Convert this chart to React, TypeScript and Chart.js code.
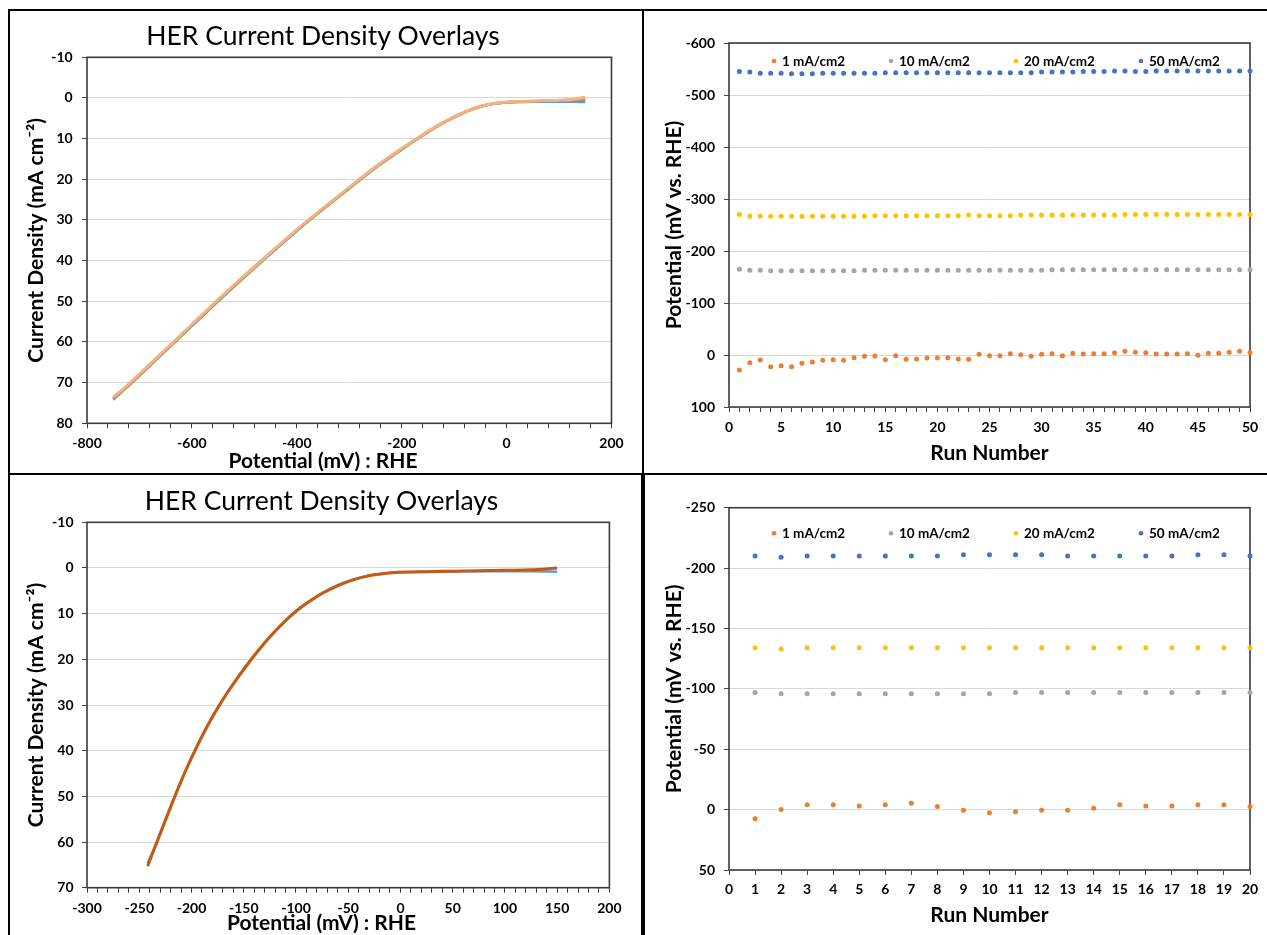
import React, { useEffect, useRef } from 'react';
import { Chart, registerables } from 'chart.js';

Chart.register(...registerables);

const FONT = 'Lato, "Open Sans", "DejaVu Sans", sans-serif';

// ---------- Top-left: HER overlays (wide range) ----------
const tlPotential = [-750, -725, -700, -650, -600, -550, -500, -450, -400, -350, -300, -250, -200, -175, -150, -125, -100, -75, -50, -25, 0, 25, 50, 75, 100, 125, 150];
const tlPeach = [73.6, 70.9, 67.9, 61.8, 55.7, 49.6, 43.7, 38.0, 32.4, 27.1, 22.0, 16.9, 12.4, 10.3, 8.2, 6.3, 4.6, 3.15, 2.05, 1.35, 1.0, 0.85, 0.75, 0.65, 0.55, 0.35, -0.2];
const tlOrange = [73.8, 71.0, 68.0, 61.9, 55.8, 49.7, 43.8, 38.1, 32.5, 27.2, 22.1, 17.0, 12.5, 10.4, 8.3, 6.4, 4.7, 3.2, 2.1, 1.4, 1.05, 0.9, 0.8, 0.7, 0.6, 0.45, 0.2];
const tlBlue = [74.0, 71.1, 68.1, 62.0, 55.9, 49.8, 43.9, 38.2, 32.6, 27.3, 22.2, 17.1, 12.6, 10.4, 8.3, 6.4, 4.7, 3.2, 2.1, 1.4, 1.05, 1.0, 0.95, 0.95, 0.95, 0.95, 1.0];
const tlGreen = [74.2, 71.3, 68.3, 62.2, 56.1, 50.0, 44.1, 38.3, 32.7, 27.4, 22.3, 17.2, 12.7, 10.5, 8.4, 6.5, 4.8, 3.3, 2.15, 1.45, 1.1, 0.95, 0.85, 0.75, 0.65, 0.5, 0.4];

// ---------- Bottom-left: HER overlays (narrow range) ----------
const blPotential = [-242, -235, -225, -215, -205, -195, -185, -175, -165, -155, -145, -135, -125, -115, -105, -95, -85, -75, -65, -55, -45, -35, -25, -15, -5, 0, 25, 50, 75, 100, 125, 150];
const blOrange = [65.3, 61.2, 55.3, 49.5, 44.1, 39.2, 34.7, 30.7, 27.1, 23.8, 20.7, 17.8, 15.1, 12.7, 10.5, 8.6, 7.0, 5.6, 4.4, 3.4, 2.6, 1.95, 1.5, 1.2, 1.0, 0.95, 0.8, 0.7, 0.6, 0.5, 0.4, 0.0];
const blBlue = [64.7, 60.9, 55.1, 49.4, 44.0, 39.1, 34.6, 30.6, 27.0, 23.7, 20.6, 17.7, 15.0, 12.6, 10.4, 8.5, 6.9, 5.5, 4.3, 3.3, 2.5, 1.9, 1.45, 1.15, 0.97, 0.9, 0.8, 0.75, 0.7, 0.7, 0.7, 0.8];

// ---------- Top-right: 50 runs ----------
const trRuns = [1, 2, 3, 4, 5, 6, 7, 8, 9, 10, 11, 12, 13, 14, 15, 16, 17, 18, 19, 20, 21, 22, 23, 24, 25, 26, 27, 28, 29, 30, 31, 32, 33, 34, 35, 36, 37, 38, 39, 40, 41, 42, 43, 44, 45, 46, 47, 48, 49, 50];
const tr1 = [28.8, 14.7, 9.6, 22.4, 20.5, 22.4, 16, 13.5, 10.2, 9, 10.2, 5.1, 2.6, 1.9, 9, 1.3, 8.3, 7.7, 5.8, 5.8, 5.1, 7.7, 8.3, -1.3, 1.3, 1.3, -2.6, -0.6, 2.6, -1.3, -2.6, 1.3, -3.2, -1.9, -2.6, -2.6, -4.5, -7, -5.1, -4.5, -1.9, -1.9, -1.9, -2.6, 0.6, -3.2, -3.2, -5.1, -7, -4.5];
const tr10 = [-165, -163, -163, -162, -162, -162, -162, -162, -162, -162, -162, -162, -163, -163, -163, -163, -163, -163, -163, -163, -163, -163, -163, -163, -163, -163, -163, -163, -163, -163, -164, -164, -164, -164, -164, -164, -164, -164, -164, -164, -164, -164, -164, -164, -164, -164, -164, -164, -164, -164];
const tr20 = [-270, -267, -267, -267, -267, -267, -267, -267, -267, -267, -267, -267, -267, -268, -268, -268, -268, -268, -268, -268, -268, -268, -269, -268, -268, -268, -268, -269, -269, -269, -269, -269, -269, -269, -269, -269, -269, -270, -270, -270, -270, -270, -270, -270, -270, -270, -270, -270, -270, -270];
const tr50 = [-545, -544, -542, -542, -542, -541, -541, -541, -542, -542, -542, -542, -542, -542, -543, -543, -543, -543, -543, -543, -543, -543, -543, -543, -543, -543, -543, -543, -543, -544, -544, -544, -544, -545, -545, -545, -546, -546, -545, -545, -546, -546, -546, -546, -546, -546, -546, -546, -546, -546];

// ---------- Bottom-right: 20 runs ----------
const brRuns = [1, 2, 3, 4, 5, 6, 7, 8, 9, 10, 11, 12, 13, 14, 15, 16, 17, 18, 19, 20];
const br1 = [7.5, 0, -4.1, -4.1, -3, -4.1, -5.2, -2.5, 0.6, 2.5, 1.7, 0.6, 0.6, -1.1, -4.1, -3, -3, -4.1, -4.1, -2.5];
const br10 = [-97, -96, -96, -96, -96, -96, -96, -96, -96, -96, -97, -97, -97, -97, -97, -97, -97, -97, -97, -97];
const br20 = [-134, -133, -134, -134, -134, -134, -134, -134, -134, -134, -134, -134, -134, -134, -134, -134, -134, -134, -134, -134];
const br50 = [-210, -209, -210, -210, -210, -210, -210, -210, -211, -211, -211, -211, -210, -210, -210, -210, -210, -211, -211, -210];

const legendLabels = ['1 mA/cm2', '10 mA/cm2', '20 mA/cm2', '50 mA/cm2'];
const scatterColors = ['#ED7D31', '#A5A5A5', '#FFC000', '#4472C4'];

const herTitle = 'HER Current Density Overlays';
const cdTitle = 'Current Density (mA cm\u207B\u00B2)';
const potTitle = 'Potential (mV) : RHE';
const runTitle = 'Run Number';
const potRheTitle = 'Potential (mV vs. RHE)';

const TICK_SIZE = 14;
const AXIS_TITLE_SIZE = 21;

Chart.defaults.font.family = FONT;
Chart.defaults.color = '#000';

const framePlugin = {
  id: 'frame',
  beforeDatasetsDraw(chart: any) {
    const { ctx, chartArea: a } = chart;
    ctx.save();
    ctx.strokeStyle = '#3a3a3a';
    ctx.lineWidth = 1.6;
    ctx.strokeRect(a.left, a.top, a.right - a.left, a.bottom - a.top);
    ctx.restore();
  },
};

function makeLegend(top: number, offsets: number[]) {
  return {
    id: 'insideLegend',
    afterDatasetsDraw(chart: any) {
      const { ctx, chartArea: a } = chart;
      ctx.save();
      ctx.font = 'bold 13.5px ' + FONT;
      ctx.textBaseline = 'middle';
      ctx.textAlign = 'left';
      chart.data.datasets.forEach((ds: any, i: number) => {
        const x = a.left + offsets[i];
        const y = a.top + top;
        ctx.fillStyle = ds.backgroundColor;
        ctx.beginPath();
        ctx.arc(x, y, 2.3, 0, Math.PI * 2);
        ctx.fill();
        ctx.fillStyle = '#000';
        ctx.fillText(ds.label, x + 8, y + 0.5);
      });
      ctx.restore();
    },
  };
}

function xAxis(o: { min: number; max: number; step: number; every: number; title?: string; height: number; titlePad?: number; tickPad: number }) {
  return {
    type: 'linear',
    min: o.min,
    max: o.max,
    afterFit: (s: any) => {
      s.height = o.height;
    },
    ticks: {
      stepSize: o.step,
      maxTicksLimit: 1000,
      autoSkip: false,
      maxRotation: 0,
      minRotation: 0,
      padding: o.tickPad,
      color: '#000',
      font: { size: TICK_SIZE, weight: 'bold' },
      callback: (v: number) => (Math.abs(v % o.every) < 1e-9 ? String(v) : ''),
    },
    grid: { drawOnChartArea: false, drawTicks: true, tickLength: 5, tickColor: '#404040', lineWidth: 1 },
    border: { display: false },
    title: o.title
      ? { display: true, text: o.title, color: '#000', font: { size: AXIS_TITLE_SIZE, weight: 'bold' }, padding: { top: 0, bottom: o.titlePad || 0 } }
      : { display: false },
  };
}

function yAxis(o: { min: number; max: number; step: number; title: string; width: number; titlePad: number; tickPad: number }) {
  return {
    type: 'linear',
    reverse: true,
    min: o.min,
    max: o.max,
    afterFit: (s: any) => {
      s.width = o.width;
    },
    ticks: { stepSize: o.step, padding: o.tickPad, color: '#000', font: { size: TICK_SIZE, weight: 'bold' } },
    grid: { color: '#D9D9D9', lineWidth: 1, drawTicks: true, tickLength: 5, tickColor: '#404040' },
    border: { display: false },
    title: { display: true, text: o.title, color: '#000', font: { size: AXIS_TITLE_SIZE, weight: 'bold' }, padding: { top: o.titlePad, bottom: 0 } },
  };
}

function lineSet(label: string, xs: number[], ys: number[], color: string, width: number) {
  return {
    label,
    data: xs.map((x, i) => ({ x, y: ys[i] })),
    showLine: true,
    borderColor: color,
    backgroundColor: color,
    borderWidth: width,
    pointRadius: 0,
    cubicInterpolationMode: 'monotone',
    clip: false,
  };
}

function dotSet(label: string, xs: number[], ys: number[], color: string) {
  return {
    label,
    data: xs.map((x, i) => ({ x, y: ys[i] })),
    showLine: false,
    backgroundColor: color,
    borderColor: color,
    borderWidth: 0,
    pointRadius: 2.5,
    clip: false,
  };
}

function baseOptions(extra: any) {
  return {
    responsive: false,
    animation: false,
    events: [],
    layout: extra.layout,
    plugins: {
      legend: { display: false },
      tooltip: { enabled: false },
      title: extra.title || { display: false },
      subtitle: extra.subtitle || { display: false },
    },
    scales: extra.scales,
  };
}

function chartTitle(padTop: number, padBottom: number) {
  return { display: true, text: herTitle, color: '#000', font: { size: 26.5, weight: 'normal' }, padding: { top: padTop, bottom: padBottom } };
}

function bottomAxisTitle(text: string, padTop: number, padBottom: number) {
  return { display: true, position: 'bottom', text, color: '#000', font: { size: AXIS_TITLE_SIZE, weight: 'bold' }, padding: { top: padTop, bottom: padBottom } };
}

function makeConfigs(): any[] {
  const tl = {
    type: 'scatter',
    data: {
      datasets: [
        lineSet('Run A', tlPotential, tlPeach, '#F4B183', 3),
        lineSet('Run B', tlPotential, tlOrange, '#ED7D31', 2.5),
        lineSet('Run C', tlPotential, tlBlue, '#5B9BD5', 2.5),
        lineSet('Run D', tlPotential, tlGreen, '#70AD47', 2.5),
      ],
    },
    options: baseOptions({
      layout: { padding: { left: 24.5, right: 30.5, top: 0, bottom: 0 } },
      title: chartTitle(9.1, 5.4),
      subtitle: bottomAxisTitle(potTitle, -3.9, -0.6),
      scales: {
        x: xAxis({ min: -800, max: 200, step: 40, every: 200, height: 29, tickPad: 6.3 }),
        y: yAxis({ min: -10, max: 80, step: 10, title: cdTitle, width: 52.5, titlePad: -10.4, tickPad: 9.3 }),
      },
    }),
    plugins: [framePlugin],
  };
  const tr = {
    type: 'scatter',
    data: {
      datasets: [
        dotSet(legendLabels[0], trRuns, tr1, scatterColors[0]),
        dotSet(legendLabels[1], trRuns, tr10, scatterColors[1]),
        dotSet(legendLabels[2], trRuns, tr20, scatterColors[2]),
        dotSet(legendLabels[3], trRuns, tr50, scatterColors[3]),
      ],
    },
    options: baseOptions({
      layout: { padding: { left: 0, right: 17, top: 32, bottom: 0 } },
      scales: {
        x: xAxis({ min: 0, max: 50, step: 1, every: 5, title: runTitle, height: 66, titlePad: 7.4, tickPad: 6.6 }),
        y: yAxis({ min: -600, max: 100, step: 100, title: potRheTitle, width: 85, titlePad: 17.4, tickPad: 9 }),
      },
    }),
    plugins: [framePlugin, makeLegend(18, [45, 162, 287, 412])],
  };
  const bl = {
    type: 'scatter',
    data: {
      datasets: [
        lineSet('Run A', blPotential, blOrange, '#C55A11', 3),
        lineSet('Run B', blPotential, blBlue, '#5B9BD5', 2.5),
      ],
    },
    options: baseOptions({
      layout: { padding: { left: 23.6, right: 31.6, top: 0, bottom: 0 } },
      title: chartTitle(10.8, 4.7),
      subtitle: bottomAxisTitle(potTitle, -6, -0.9),
      scales: {
        x: xAxis({ min: -300, max: 200, step: 10, every: 50, height: 29, tickPad: 6.9 }),
        y: yAxis({ min: -10, max: 70, step: 10, title: cdTitle, width: 53.4, titlePad: -9.5, tickPad: 8.5 }),
      },
    }),
    plugins: [framePlugin],
  };
  const br = {
    type: 'scatter',
    data: {
      datasets: [
        dotSet(legendLabels[0], brRuns, br1, scatterColors[0]),
        dotSet(legendLabels[1], brRuns, br10, scatterColors[1]),
        dotSet(legendLabels[2], brRuns, br20, scatterColors[2]),
        dotSet(legendLabels[3], brRuns, br50, scatterColors[3]),
      ],
    },
    options: baseOptions({
      layout: { padding: { left: 0, right: 17, top: 32.7, bottom: 0 } },
      scales: {
        x: xAxis({ min: 0, max: 20, step: 1, every: 1, title: runTitle, height: 65, titlePad: 7.4, tickPad: 5.6 }),
        y: yAxis({ min: -250, max: 50, step: 50, title: potRheTitle, width: 84, titlePad: 16.4, tickPad: 9 }),
      },
    }),
    plugins: [framePlugin, makeLegend(25.6, [45, 162, 287, 412])],
  };
  return [tl, tr, bl, br];
}

const panels = [
  { left: 10, top: 11, width: 632, height: 462 },
  { left: 644, top: 11, width: 623, height: 462 },
  { left: 10, top: 475, width: 631, height: 460 },
  { left: 645, top: 475, width: 622, height: 460 },
];

const lines = [
  { left: 8, top: 9, width: 1259, height: 2 },
  { left: 8, top: 9, width: 2, height: 926 },
  { left: 8, top: 473, width: 1259, height: 2 },
  { left: 642, top: 9, width: 2, height: 466 },
  { left: 641, top: 473, width: 4, height: 462 },
];

export default function App() {
  const refs = [useRef<HTMLCanvasElement>(null), useRef<HTMLCanvasElement>(null), useRef<HTMLCanvasElement>(null), useRef<HTMLCanvasElement>(null)];
  useEffect(() => {
    const configs = makeConfigs();
    const charts = refs.map((r, i) => new Chart(r.current as HTMLCanvasElement, configs[i]));
    return () => charts.forEach((c) => c.destroy());
  }, []);
  return (
    <div style={{ position: 'absolute', left: 0, top: 0, width: 1267, height: 935, background: '#fff', overflow: 'hidden' }}>
      {panels.map((p, i) => (
        <canvas
          key={i}
          ref={refs[i]}
          width={p.width}
          height={p.height}
          style={{ position: 'absolute', left: p.left, top: p.top, width: p.width, height: p.height }}
        />
      ))}
      {lines.map((l, i) => (
        <div key={'l' + i} style={{ position: 'absolute', left: l.left, top: l.top, width: l.width, height: l.height, background: '#000' }} />
      ))}
    </div>
  );
}
